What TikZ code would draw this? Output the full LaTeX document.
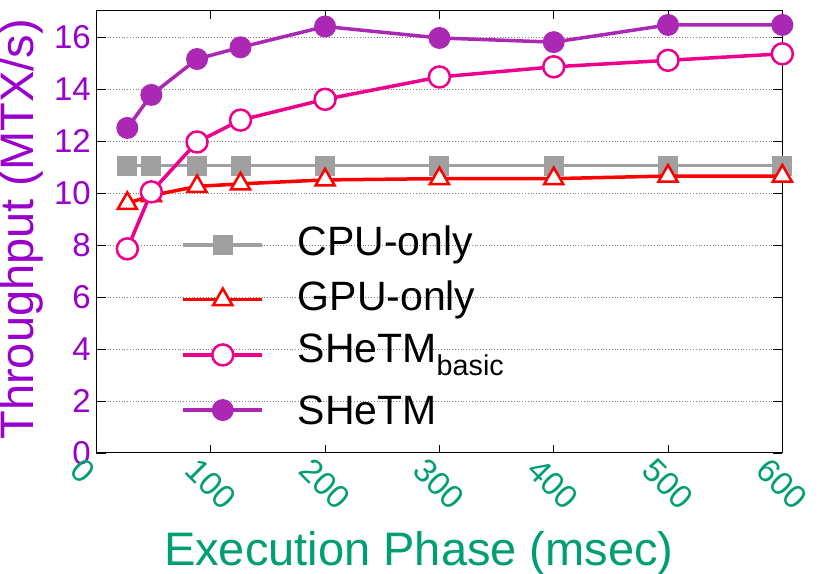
\documentclass[tikz,border=0pt]{standalone}
\usepackage{fontspec}
\setmainfont{Liberation Sans}
\usetikzlibrary{positioning,shapes.geometric}
\definecolor{axpurple}{RGB}{153,0,204}
\definecolor{axgreen}{RGB}{0,158,115}
\definecolor{cpucol}{RGB}{160,160,160}
\definecolor{shetmcol}{RGB}{170,40,180}
\begin{document}
\begin{tikzpicture}[x=1.143pt,y=26pt,
  cpumark/.style={rectangle,fill=cpucol,minimum size=20pt,inner sep=0pt},
  gpumark/.style={regular polygon,regular polygon sides=3,draw=red,line width=2.5pt,fill=white,minimum size=22pt,inner sep=0pt},
  basicmark/.style={circle,draw=magenta,line width=2.5pt,fill=white,minimum size=21pt,inner sep=0pt},
  shetmmark/.style={circle,fill=shetmcol,minimum size=22pt,inner sep=0pt},
  series/.style={line width=3.5pt},
  legtext/.style={anchor=west,font=\fontsize{41}{43}\selectfont}]
\useasboundingbox (-84.4,-4.654) rectangle (634.7,17.42);
% grid and frame
\foreach \y in {2,4,...,16} \draw[gray,dotted,line width=0.8pt] (0,\y) -- (600,\y);
\foreach \y in {0,2,...,16} {
  \draw[line width=0.8pt] (0,\y) -- (8,\y);
  \draw[line width=0.8pt] (600,\y) -- (592,\y);
  \node[anchor=east,text=axpurple,font=\fontsize{33}{35}\selectfont,inner sep=2pt] (yl\y) at (-3,\y) {\y};
}
\foreach \x in {0,100,...,600} {
  \draw[line width=0.8pt] (\x,0) -- (\x,0.3);
  \draw[line width=0.8pt] (\x,17) -- (\x,16.7);
  \node[anchor=north west,rotate=-45,text=axgreen,font=\fontsize{33}{35}\selectfont,inner sep=0pt] (xl\x) at (\x-10,-0.1) {\x};
}
\draw[line width=1pt] (0,0) rectangle (600,17);
\node[rotate=90,text=axpurple,font=\fontsize{47}{49}\selectfont] (ylab) at (-66,8.6) {Throughput (MTX/s)};
\node[text=axgreen,font=\fontsize{47}{49}\selectfont] (xlab) at (282,-3.85) {Execution Phase (msec)};
% data
\draw[series,cpucol] (27,11.05) -- (48,11.05) -- (88,11.05) -- (126,11.05) -- (200,11.05) -- (300,11.05) -- (400,11.05) -- (500,11.05) -- (600,11.05);
\foreach \x in {27,48,88,126,200,300,400,500,600} \node[cpumark] at (\x,11.05) {};
\draw[series,red] (27,9.6) -- (48,9.9) -- (88,10.25) -- (126,10.35) -- (200,10.5) -- (300,10.55) -- (400,10.55) -- (500,10.65) -- (600,10.65);
\foreach \x/\y in {27/9.6,48/9.9,88/10.25,126/10.35,200/10.5,300/10.55,400/10.55,500/10.65,600/10.65} \node[gpumark] at (\x,\y) {};
\draw[series,magenta] (27,7.85) -- (48,10.04) -- (88,11.96) -- (126,12.8) -- (200,13.6) -- (300,14.46) -- (400,14.85) -- (500,15.1) -- (600,15.35);
\foreach \x/\y in {27/7.85,48/10.04,88/11.96,126/12.8,200/13.6,300/14.46,400/14.85,500/15.1,600/15.35} \node[basicmark] at (\x,\y) {};
\draw[series,shetmcol] (27,12.5) -- (48,13.77) -- (88,15.15) -- (126,15.6) -- (200,16.4) -- (300,15.96) -- (400,15.8) -- (500,16.46) -- (600,16.46);
\foreach \x/\y in {27/12.5,48/13.77,88/15.15,126/15.6,200/16.4,300/15.96,400/15.8,500/16.46,600/16.46} \node[shetmmark] at (\x,\y) {};
% legend
\coordinate (la) at (76,8.0);  \coordinate (lb) at (145,8.0);
\coordinate (lc) at (76,5.9);  \coordinate (ld) at (145,5.9);
\coordinate (le) at (76,3.77); \coordinate (lf) at (145,3.77);
\coordinate (lg) at (76,1.65); \coordinate (lh) at (145,1.65);
\draw[series,cpucol] (la) -- (lb) node[midway,cpumark] {};
\draw[series,red] (lc) -- (ld) node[midway,gpumark] {};
\draw[series,magenta] (le) -- (lf) node[midway,basicmark] {};
\draw[series,shetmcol] (lg) -- (lh) node[midway,shetmmark] {};
\node[legtext] (tcpu) at (173,8.0) {CPU-only};
\node[legtext] (tgpu) at (173,5.9) {GPU-only};
\node[legtext] (tbasic) at (173,3.77) {SHeTM\textsubscript{basic}};
\node[legtext] (tshetm) at (173,1.65) {SHeTM};
\end{tikzpicture}
\end{document}
